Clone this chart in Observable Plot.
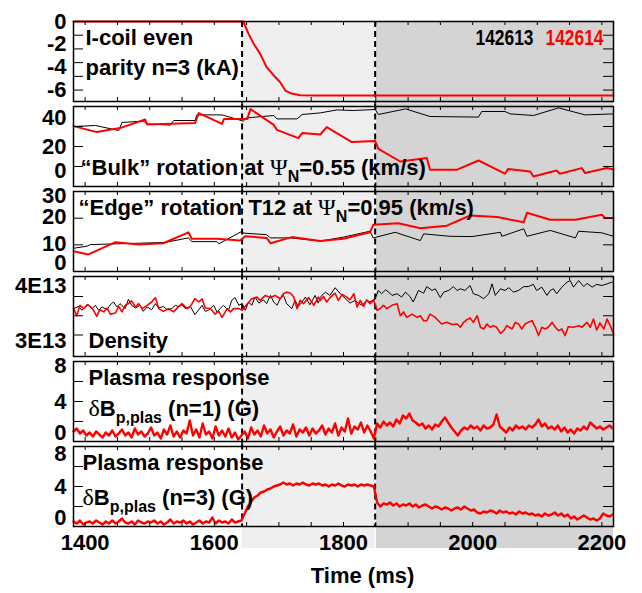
<!DOCTYPE html>
<html><head><meta charset="utf-8">
<script src="https://cdn.jsdelivr.net/npm/d3@7"></script>
<script src="https://cdn.jsdelivr.net/npm/@observablehq/plot@0.6"></script>
<style>
body{margin:0;background:#fff;}
#chart{position:relative;width:642px;height:593px;background:#fff;overflow:hidden;}
#chart svg{position:absolute;left:0;}
</style></head><body><div id="chart"></div>
<script>
// ---------------- DATA ----------------
const shotNames = ["142613", "142614"];
const timeDomain = [1382, 2218];
const timeLabels = [1400, 1600, 1800, 2000, 2200];
const timeTicks = [1400,1450,1500,1550,1600,1650,1700,1750,1800,1850,1900,1950,2000,2050,2100,2150,2200];
const coilOnTime = 1643, coilStepTime = 1849;
const phaseStart = [1643, 1851];
const phaseEnd = [1849, 2218];

// I-coil current (kA), shot 142614
const coil614 = [[1382,0],[1645,0],[1653,-1.08],[1661,-1.95],[1671,-2.83],[1681,-4.0],[1692,-4.72],[1702,-5.31],[1710,-6.04],[1718,-6.27],[1733,-6.45],[1760,-6.48],[2218,-6.48]];
const coilLabels = [0, -2, -4, -6];
const coilTicks = [-1.2, -2.4, -3.6, -4.8, -6];

// Bulk rotation (km/s)
const bulk613 = [[1382,30],[1416,30.5],[1452,28],[1457,32],[1490,32.7],[1496,31.3],[1532,30.7],[1537,33],[1570,33],[1573,35.8],[1612,35.8],[1645,32.7],[1650,34.3],[1692,35.5],[1697,33.8],[1728,33.8],[1736,36],[1764,36.8],[1790,38.3],[1815,38],[1849,38.5],[1854,36],[1896,38.8],[1934,35],[2009,34.7],[2014,37.5],[2050,37.5],[2058,36.3],[2094,35.5],[2133,39.3],[2174,35.8],[2218,36.3]];
const bulk614 = [[1382,30.2],[1418,27.2],[1454,29.2],[1493,33.5],[1496,31],[1570,31.7],[1576,36.7],[1612,31.3],[1615,33.8],[1651,33.8],[1656,38.7],[1692,30.8],[1697,28.3],[1730,24.2],[1736,26.7],[1764,26],[1774,29.7],[1813,22.2],[1849,22.7],[1854,18.8],[1888,12.5],[1929,14.2],[1934,8.4],[1976,8.4],[2009,13],[2050,6.4],[2055,8.8],[2089,7.5],[2094,5],[2130,8],[2135,6.4],[2169,9.2],[2174,6.7],[2208,9.2],[2218,8.5]];
const bulkLabels = [40, 20, 0];
const bulkTicks = [10, 20, 30];

// Edge rotation (km/s)
const edge613 = [[1382,8.7],[1403,9.5],[1408,10.1],[1483,10.6],[1524,10.9],[1560,12.6],[1565,11.2],[1604,11.2],[1607,10.4],[1643,15.1],[1645,14.4],[1681,13.8],[1687,12.6],[1718,12.6],[1764,11.4],[1800,12.9],[1841,15.1],[1846,12.6],[1880,14.7],[1919,11.6],[1924,14.1],[1965,13.2],[1999,13.1],[2043,14.7],[2045,13.2],[2079,16],[2084,13.2],[2120,15.4],[2159,12.6],[2164,15.1],[2200,14.5],[2218,13.2]];
const edge614 = [[1382,7.6],[1405,6.4],[1447,11],[1483,10.1],[1521,10.6],[1560,14.7],[1565,12.3],[1604,12.3],[1640,11.6],[1648,13.2],[1681,12.6],[1687,10.6],[1720,12.9],[1764,11.4],[1800,12.3],[1841,14.7],[1846,17.5],[1885,18.1],[1919,16.2],[1960,17.2],[1996,21],[2038,20.4],[2079,18.5],[2084,22],[2120,19.4],[2159,19.4],[2200,21.3],[2205,20.1],[2218,20.1]];
const edgeLabels = [30, 20, 10, 0];
const edgeTicks = [10, 20];

// Density (units of 1E13)
const dens613 = [[1382,3.58],[1390,3.62],[1395,3.55],[1400,3.61],[1405,3.65],[1411,3.58],[1416,3.64],[1421,3.55],[1426,3.61],[1434,3.56],[1439,3.65],[1444,3.70],[1449,3.61],[1454,3.67],[1462,3.58],[1467,3.75],[1472,3.64],[1478,3.59],[1485,3.64],[1490,3.53],[1496,3.61],[1503,3.56],[1509,3.67],[1514,3.59],[1521,3.62],[1527,3.56],[1534,3.58],[1540,3.64],[1545,3.61],[1550,3.65],[1555,3.58],[1563,3.62],[1570,3.47],[1576,3.56],[1581,3.64],[1586,3.53],[1591,3.55],[1599,3.64],[1604,3.52],[1609,3.58],[1614,3.64],[1622,3.55],[1627,3.73],[1632,3.78],[1638,3.64],[1643,3.67],[1648,3.55],[1653,3.70],[1658,3.64],[1663,3.79],[1669,3.68],[1676,3.74],[1681,3.67],[1687,3.82],[1692,3.70],[1697,3.64],[1702,3.76],[1707,3.82],[1712,3.67],[1720,3.58],[1725,3.73],[1730,3.62],[1736,3.70],[1741,3.79],[1748,3.65],[1756,3.82],[1761,3.68],[1764,3.79],[1772,3.88],[1779,3.82],[1787,3.96],[1795,3.85],[1803,3.76],[1810,3.68],[1818,3.73],[1823,3.68],[1829,3.64],[1836,3.73],[1841,3.70],[1849,3.76],[1854,3.91],[1859,3.85],[1865,3.92],[1870,3.88],[1875,3.82],[1883,3.85],[1890,3.79],[1896,3.88],[1903,3.80],[1908,3.70],[1916,3.91],[1924,3.86],[1929,3.98],[1937,3.91],[1942,3.94],[1950,3.78],[1955,3.88],[1963,3.91],[1970,3.98],[1976,3.91],[1981,3.94],[1988,3.91],[1996,4.00],[2001,3.85],[2009,3.82],[2017,3.76],[2025,3.85],[2030,4.03],[2035,3.82],[2043,3.94],[2050,3.91],[2056,3.96],[2063,3.88],[2071,3.91],[2079,3.98],[2086,3.98],[2094,4.02],[2099,3.91],[2107,3.97],[2115,3.82],[2120,3.91],[2125,3.94],[2130,3.85],[2138,3.97],[2146,4.06],[2151,4.09],[2156,3.97],[2164,4.09],[2172,3.98],[2177,4.04],[2185,3.97],[2192,4.02],[2200,4.00],[2208,4.03],[2215,4.06],[2218,4.06]];
const dens614 = [[1382,3.58],[1387,3.45],[1392,3.64],[1398,3.58],[1403,3.65],[1408,3.62],[1413,3.55],[1418,3.44],[1423,3.56],[1429,3.52],[1434,3.59],[1439,3.48],[1447,3.50],[1452,3.62],[1457,3.52],[1462,3.64],[1467,3.67],[1472,3.72],[1478,3.61],[1483,3.67],[1488,3.58],[1496,3.64],[1503,3.70],[1509,3.78],[1514,3.58],[1521,3.53],[1529,3.58],[1537,3.52],[1545,3.62],[1550,3.67],[1558,3.58],[1563,3.62],[1570,3.76],[1576,3.70],[1581,3.76],[1586,3.59],[1594,3.58],[1601,3.48],[1607,3.53],[1612,3.42],[1620,3.58],[1625,3.52],[1630,3.58],[1638,3.58],[1643,3.55],[1650,3.65],[1658,3.76],[1666,3.79],[1671,3.73],[1679,3.82],[1687,3.78],[1694,3.82],[1702,3.76],[1707,3.85],[1712,3.88],[1718,3.86],[1723,3.79],[1728,3.58],[1733,3.73],[1738,3.67],[1746,3.78],[1754,3.64],[1761,3.79],[1764,3.73],[1769,3.80],[1774,3.70],[1779,3.78],[1787,3.86],[1792,3.73],[1798,3.84],[1805,3.79],[1810,3.74],[1816,3.85],[1821,3.61],[1826,3.73],[1831,3.62],[1836,3.74],[1841,3.67],[1847,3.73],[1852,3.55],[1857,3.58],[1862,3.64],[1867,3.58],[1875,3.64],[1883,3.67],[1888,3.45],[1893,3.52],[1898,3.42],[1906,3.48],[1914,3.42],[1919,3.45],[1924,3.36],[1929,3.36],[1934,3.48],[1942,3.42],[1947,3.36],[1952,3.30],[1960,3.33],[1968,3.29],[1976,3.30],[1981,3.24],[1986,3.33],[1991,3.38],[1996,3.41],[2001,3.33],[2007,3.45],[2012,3.24],[2017,3.21],[2022,3.30],[2027,3.24],[2032,3.27],[2037,3.24],[2043,3.13],[2048,3.18],[2053,3.27],[2061,3.21],[2066,3.33],[2071,3.30],[2076,3.21],[2081,3.30],[2086,3.33],[2092,3.36],[2097,3.24],[2102,3.09],[2107,3.24],[2112,3.21],[2117,3.24],[2123,3.33],[2128,3.24],[2133,3.18],[2138,3.21],[2143,3.09],[2148,3.25],[2156,3.24],[2164,3.27],[2169,3.24],[2177,3.33],[2182,3.24],[2187,3.39],[2192,3.19],[2197,3.32],[2203,3.21],[2208,3.39],[2213,3.27],[2218,3.12]];
const densLabels = [4, 3];
const densTicks = [3.1, 3.45, 3.8];

// Plasma response (G), shot 142614, sampled every 5 ms from 1382 ms
const plasmaStart = 1382, plasmaStep = 5;
const resp1 = [
 1.0,1.3,0.8,1.1,0.6,0.9,0.5,1.0,0.7,0.4,0.9,0.6,
 1.1,0.5,0.8,1.2,0.6,0.9,0.4,1.3,0.7,1.0,0.5,0.8,
 1.4,0.6,0.9,0.3,1.2,0.7,1.6,0.5,1.0,0.4,1.1,0.8,
 2.1,0.6,1.2,0.4,1.8,0.7,1.0,0.3,1.5,0.6,1.1,0.5,
 1.3,0.4,0.9,0.2,
 0.6,1.0,0.3,1.4,0.7,1.1,0.5,1.6,0.8,1.2,0.4,1.0,
 1.5,0.6,1.1,0.8,1.7,0.5,1.2,0.9,1.4,0.6,1.3,0.8,
 1.1,1.6,0.7,1.3,0.9,1.8,0.6,1.4,1.0,2.3,0.8,1.5,
 1.2,1.9,0.9,1.6,1.0,0.3,
 1.8,1.4,2.0,1.6,1.9,1.5,2.2,1.8,2.6,2.3,2.8,2.1,
 1.9,1.6,1.8,1.3,1.6,1.2,1.7,1.5,2.0,2.4,1.9,1.4,
 1.0,0.6,1.1,1.4,1.2,1.6,1.3,1.5,1.1,1.6,1.3,1.4,
 1.7,2.7,1.5,1.2,0.9,1.4,1.1,1.6,1.3,1.5,1.2,1.6,
 1.4,1.7,2.2,1.5,1.8,1.3,1.5,1.2,1.6,1.0,1.4,0.9,
 1.2,0.8,1.3,1.1,1.5,1.2,1.9,1.6,1.3,1.5,1.2,1.4,
 1.6,1.3];
const resp3 = [
 0.5,0.3,0.6,0.2,0.4,0.5,0.3,0.6,0.4,0.2,0.5,0.3,
 0.6,0.3,0.5,0.8,0.4,0.3,0.5,0.2,0.6,0.4,0.3,0.5,
 0.4,0.6,0.3,0.5,0.2,0.4,0.7,0.3,0.5,0.4,0.6,0.3,
 0.5,0.2,0.4,0.6,0.3,0.5,0.4,0.9,0.3,0.6,0.4,0.5,
 0.3,0.7,0.4,0.5,
 0.6,1.3,2.0,2.5,2.9,3.1,3.4,3.5,3.7,3.8,4.0,4.1,
 4.2,4.4,4.2,4.3,4.1,4.3,4.2,4.4,4.2,4.1,4.3,4.2,
 4.3,4.1,4.2,4.0,4.2,4.1,4.3,4.1,4.0,4.2,4.1,4.2,
 4.0,4.2,4.1,4.2,4.1,4.0,
 2.4,2.0,2.3,2.2,2.4,2.1,2.3,2.0,2.2,2.1,2.3,2.0,
 2.2,1.9,2.1,2.2,2.0,1.8,2.0,1.9,1.7,1.9,1.8,1.6,
 1.8,1.9,1.7,2.0,1.8,1.6,1.7,1.4,1.3,1.5,1.4,1.6,
 1.5,1.3,1.6,1.4,1.5,1.3,1.4,1.2,1.5,1.3,1.4,1.2,
 1.3,1.1,1.2,1.0,1.3,1.1,1.2,1.4,1.1,1.3,1.0,1.2,
 0.8,1.0,0.7,0.9,1.1,0.9,0.7,0.8,0.6,0.8,1.3,1.1,
 1.0,1.2];
const respLabels = [8, 4, 0];
const respTicks = [2, 4, 6];

// ---------------- LAYOUT ----------------
const W = 642, ML = 73, MR = 29, FH = 80;
const frameTops = [21, 106, 191, 276, 361, 446];
const FW = W - ML - MR;
const BOLD = "'Liberation Sans', Arial, Helvetica, sans-serif";
const SERIF = "'Liberation Serif', 'DejaVu Serif', serif";
const RED = "#ff0000";
const pts = arr => arr.map(([t, v]) => ({t, v}));
const sampled = arr => arr.map((v, i) => ({t: plasmaStart + i * plasmaStep, v}));

const panels = [
  {domain: [-7, 0], labels: coilLabels, shifts: [0, 0, 0, 0], ticks: coilTicks, fmt: d => String(d),
   lines: [{data: pts(coil614), stroke: RED, w: 2}],
   texts: [{name: "t1a", s: "I-coil even", dx: 12, dy: 16}, {name: "t1b", s: "parity n=3 (kA)", dx: 12, dy: 46}],
   legend: true},
  {domain: [0, 40], labels: bulkLabels, shifts: [11, 0, -16], ticks: bulkTicks, fmt: d => String(d),
   lines: [{data: pts(bulk613), stroke: "black", w: 1}, {data: pts(bulk614), stroke: RED, w: 2}],
   texts: [{name: "bulk", s: "“Bulk” rotation at ΨN=0.55 (km/s)", dx: 7, dy: 61,
     rich: [["“Bulk” rotation at "], ["Ψ", "sym"], ["N", "sub"], ["=0.55 (km/s)"]]}]},
  {domain: [0, 30], labels: edgeLabels, shifts: [4, -1, -1, -9], ticks: edgeTicks, fmt: d => String(d),
   lines: [{data: pts(edge613), stroke: "black", w: 1}, {data: pts(edge614), stroke: RED, w: 2}],
   texts: [{name: "edge", s: "“Edge” rotation T12 at ΨN=0.95 (km/s)", dx: 5, dy: 16,
     rich: [["“Edge” rotation T12 at "], ["Ψ", "sym"], ["N", "sub"], ["=0.95 (km/s)"]]}]},
  {domain: [2.709, 4.164], labels: densLabels, shifts: [0, 0], ticks: densTicks, fmt: d => d + "E13",
   lines: [{data: pts(dens613), stroke: "black", w: 1}, {data: pts(dens614), stroke: RED, w: 1.6}],
   texts: [{name: "dens", s: "Density", dx: 15, dy: 64}]},
  {domain: [0, 8], labels: respLabels, shifts: [4, 0, -9], ticks: respTicks, fmt: d => String(d),
   lines: [{data: sampled(resp1), stroke: RED, w: 2.4}],
   texts: [{name: "r1a", s: "Plasma response", dx: 15, dy: 16},
           {name: "r1b", s: "δBp,plas (n=1) (G)", dx: 15, dy: 47, rich: [["δ", "sym"], ["B"], ["p,plas", "sub"], [" (n=1) (G)"]]}]},
  {domain: [0, 8], labels: respLabels, shifts: [7, 0, -9], ticks: respTicks, fmt: d => String(d),
   lines: [{data: sampled(resp3), stroke: RED, w: 2.4}],
   texts: [{name: "r3a", s: "Plasma response", dx: 9, dy: 16},
           {name: "r3b", s: "δBp,plas (n=3) (G)", dx: 9, dy: 51, rich: [["δ", "sym"], ["B"], ["p,plas", "sub"], [" (n=3) (G)"]]}],
   bottom: true}
];

const chart = document.getElementById("chart");

panels.forEach((p, i) => {
  const first = i === 0, last = i === panels.length - 1;
  const inTop = first ? 0 : -2.5, inBot = last ? -22 : -2.5;
  const marks = [
    Plot.rect([0], {x1: () => phaseStart[0], x2: () => phaseEnd[0], fill: "#efefef", insetTop: inTop, insetBottom: inBot}),
    Plot.rect([0], {x1: () => phaseStart[1], x2: () => phaseEnd[1], fill: "#d4d4d4", insetTop: inTop, insetBottom: inBot}),
    Plot.ruleX([coilOnTime, coilStepTime], {stroke: "black", strokeWidth: 2, strokeDasharray: "6,4",
      insetTop: first ? 0 : -2.5, insetBottom: last ? 0 : -2.5}),
    ...p.lines.map(l => Plot.line(l.data, {x: "t", y: "v", stroke: l.stroke, strokeWidth: l.w, strokeLinejoin: "round"})),
    Plot.ruleX(timeTicks, {insetTop: FH - 4, stroke: "black", strokeWidth: 1}),
    Plot.ruleX(timeTicks, {insetBottom: FH - 4, stroke: "black", strokeWidth: 1}),
    Plot.ruleY(p.ticks, {insetRight: FW - 10, stroke: "black", strokeWidth: 1}),
    Plot.ruleY(p.ticks, {insetLeft: FW - 10, stroke: "black", strokeWidth: 1}),
    Plot.frame({stroke: "black", strokeWidth: 1.5}),
    ...p.labels.map((v, k) => Plot.text([v], {y: d => d, text: p.fmt, frameAnchor: "left", textAnchor: "end",
      lineAnchor: "middle", dx: -7, dy: p.shifts[k]})),
    ...p.texts.map(t => Plot.text([t.s], {text: d => d, frameAnchor: "top-left", textAnchor: "start",
      lineAnchor: "middle", dx: t.dx, dy: t.dy, ariaLabel: () => t.name}))
  ];
  if (p.legend) {
    marks.push(Plot.text([shotNames[1]], {text: d => d, frameAnchor: "top-right", textAnchor: "end", lineAnchor: "middle",
      dx: -10, dy: 16, fill: RED, ariaLabel: () => "legend"}));
    marks.push(Plot.text([shotNames[0]], {text: d => d, frameAnchor: "top-right", textAnchor: "end", lineAnchor: "middle",
      dx: -80, dy: 16, fill: "black", ariaLabel: () => "legend"}));
  }
  if (p.bottom) {
    marks.push(Plot.text(timeLabels, {x: d => d, text: d => String(d), frameAnchor: "bottom", lineAnchor: "middle", dy: 16}));
    marks.push(Plot.text(["Time (ms)"], {text: d => d, frameAnchor: "bottom", lineAnchor: "middle", dx: 19, dy: 49}));
  }
  const svg = Plot.plot({
    width: W, height: FH, marginTop: 0, marginBottom: 0, marginLeft: ML, marginRight: MR,
    x: {domain: timeDomain, axis: null},
    y: {domain: p.domain, axis: null},
    style: {overflow: "visible", background: "transparent", fontFamily: BOLD, fontSize: "22px", fontWeight: "bold", color: "black"},
    marks
  });
  svg.style.top = frameTops[i] + "px";
  chart.appendChild(svg);

  // rich labels with Greek symbols and subscripts
  p.texts.filter(t => t.rich).forEach(t => {
    const el = d3.select(svg).select(`text[aria-label="${t.name}"]`);
    if (el.empty()) return;
    el.text(null);
    let down = false;
    t.rich.forEach(([s, kind]) => {
      const sp = el.append("tspan").text(s);
      if (kind === "sym") sp.attr("font-family", SERIF).attr("font-weight", "normal").attr("font-size", 24);
      if (kind === "sub") { sp.attr("font-size", 16).attr("dy", 7); down = true; }
      else if (down) { sp.attr("dy", -7); down = false; }
    });
  });
  d3.select(svg).selectAll('text[aria-label="legend"]')
    .attr("textLength", 58).attr("lengthAdjust", "spacingAndGlyphs");
});
</script></body></html>
